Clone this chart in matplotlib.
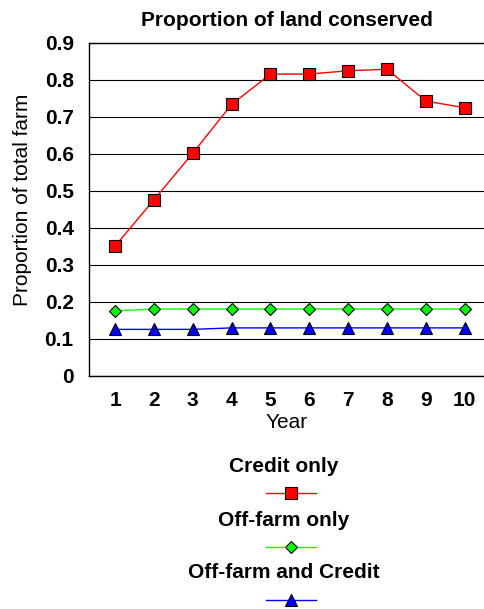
import matplotlib
matplotlib.use("Agg")
import matplotlib.pyplot as plt
from matplotlib.lines import Line2D

plt.rcParams['font.family'] = ['Liberation Sans', 'DejaVu Sans']

years = [1, 2, 3, 4, 5, 6, 7, 8, 9, 10]
credit_only = [0.351, 0.476, 0.602, 0.734, 0.816, 0.816, 0.825, 0.829, 0.743, 0.725]
offfarm_only = [0.176, 0.181, 0.181, 0.181, 0.181, 0.181, 0.181, 0.181, 0.181, 0.181]
offfarm_credit = [0.126, 0.126, 0.126, 0.130, 0.130, 0.130, 0.130, 0.130, 0.130, 0.130]
series_names = ["Credit only", "Off-farm only", "Off-farm and Credit"]
yticks = [0, 0.1, 0.2, 0.3, 0.4, 0.5, 0.6, 0.7, 0.8, 0.9]
ytick_labels = ["0", "0.1", "0.2", "0.3", "0.4", "0.5", "0.6", "0.7", "0.8", "0.9"]

styles = [
    dict(color="#ff0000", marker="s", markersize=8, markerfacecolor="#ff0000"),
    dict(color="#00ff00", marker="D", markersize=6, markerfacecolor="#00ff00"),
    dict(color="#0000ff", marker="^", markersize=8.5, markerfacecolor="#0000ff"),
]

FS = 15

fig = plt.figure(figsize=(4.85, 6.09), dpi=100)
ax = fig.add_axes([0.1835, 0.3826, 0.8165, 0.5468])

for vals, st in zip([credit_only, offfarm_only, offfarm_credit], styles):
    ax.plot(years, vals, linewidth=1, markeredgecolor="black",
            markeredgewidth=0.8, zorder=3, **st)

ax.set_xlim(0.33, 10.52)
ax.set_ylim(0, 0.9)
ax.set_yticks(yticks)
ax.set_yticklabels(ytick_labels)
ax.set_xticks(years)
ax.grid(True, axis='y', color='black', linewidth=0.8)
ax.tick_params(axis='y', length=0, labelsize=FS, pad=11)
ax.tick_params(axis='x', length=0, labelsize=FS, pad=11)
for lbl in ax.get_xticklabels() + ax.get_yticklabels():
    lbl.set_fontweight('bold')
for side in ['left', 'bottom', 'top']:
    ax.spines[side].set_linewidth(1)
ax.spines['right'].set_visible(False)

ax.set_title("Proportion of land conserved", fontsize=FS, fontweight='bold', pad=12)
ax.set_xlabel("Year", fontsize=FS, labelpad=2)
ax.set_ylabel("Proportion of total farm", fontsize=FS)
ax.yaxis.set_label_coords(-0.144, 0.53)

# stacked legend below the plot: label on top, sample line underneath
label_x = 284 / 485
line_x = 291 / 485
label_y = [466, 520, 573]
for name, st, ly in zip(series_names, styles, label_y):
    fig.text(label_x, 1 - ly / 609, name, ha='center', va='center',
             fontsize=FS, fontweight='bold')
    my = 1 - (ly + 27) / 609
    fig.add_artist(Line2D([line_x - 25 / 485, line_x + 25 / 485], [my, my],
                          transform=fig.transFigure, linewidth=1,
                          color=st['color']))
    fig.add_artist(Line2D([line_x], [my], transform=fig.transFigure,
                          linestyle='none', marker=st['marker'],
                          markersize=st['markersize'],
                          markerfacecolor=st['markerfacecolor'],
                          markeredgecolor='black', markeredgewidth=0.8))

fig.savefig("out.png", dpi=100)
